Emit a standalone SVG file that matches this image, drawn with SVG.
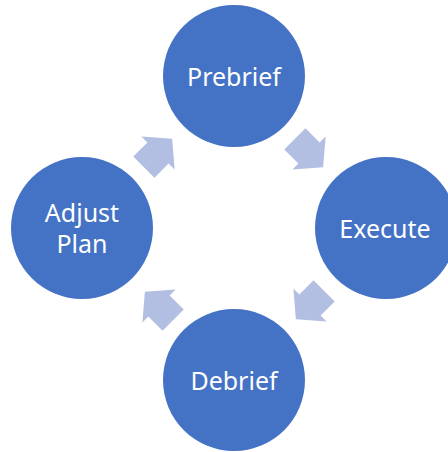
<svg xmlns="http://www.w3.org/2000/svg" width="448" height="452" viewBox="0 0 448 452">
  <defs>
    <style>
      .node { fill: #4472C4; }
      .label { fill: #FFFFFF; font-family: "Noto Sans", "Open Sans", sans-serif; font-size: 25px; text-anchor: middle; dominant-baseline: central; }
      .arrow { fill: #B2BFE2; }
    </style>
    <!-- block arrow pointing along +x, centred on the origin -->
    <polygon id="blockArrow" points="-20,-15 0,-15 0,-23.5 20,0 0,23.5 0,15 -20,15"/>
  </defs>
  <rect width="448" height="452" fill="#FFFFFF"/>

  <g id="connectors">
    <use href="#blockArrow" class="arrow" transform="translate(158,153) rotate(-45)"/>
    <use href="#blockArrow" class="arrow" transform="translate(309,153) rotate(45)"/>
    <use href="#blockArrow" class="arrow" transform="translate(310,305) rotate(135)"/>
    <use href="#blockArrow" class="arrow" transform="translate(159,306) rotate(-135)"/>
  </g>

  <g id="prebrief">
    <circle class="node" cx="234" cy="76" r="71"/>
    <text class="label" x="234" y="76">Prebrief</text>
  </g>
  <g id="execute">
    <circle class="node" cx="386" cy="228" r="71"/>
    <text class="label" x="385" y="228">Execute</text>
  </g>
  <g id="debrief">
    <circle class="node" cx="234" cy="380" r="71"/>
    <text class="label" x="234" y="380">Debrief</text>
  </g>
  <g id="adjust-plan">
    <circle class="node" cx="82" cy="228" r="71"/>
    <text class="label" x="82" y="212">Adjust</text>
    <text class="label" x="82" y="243">Plan</text>
  </g>
</svg>
